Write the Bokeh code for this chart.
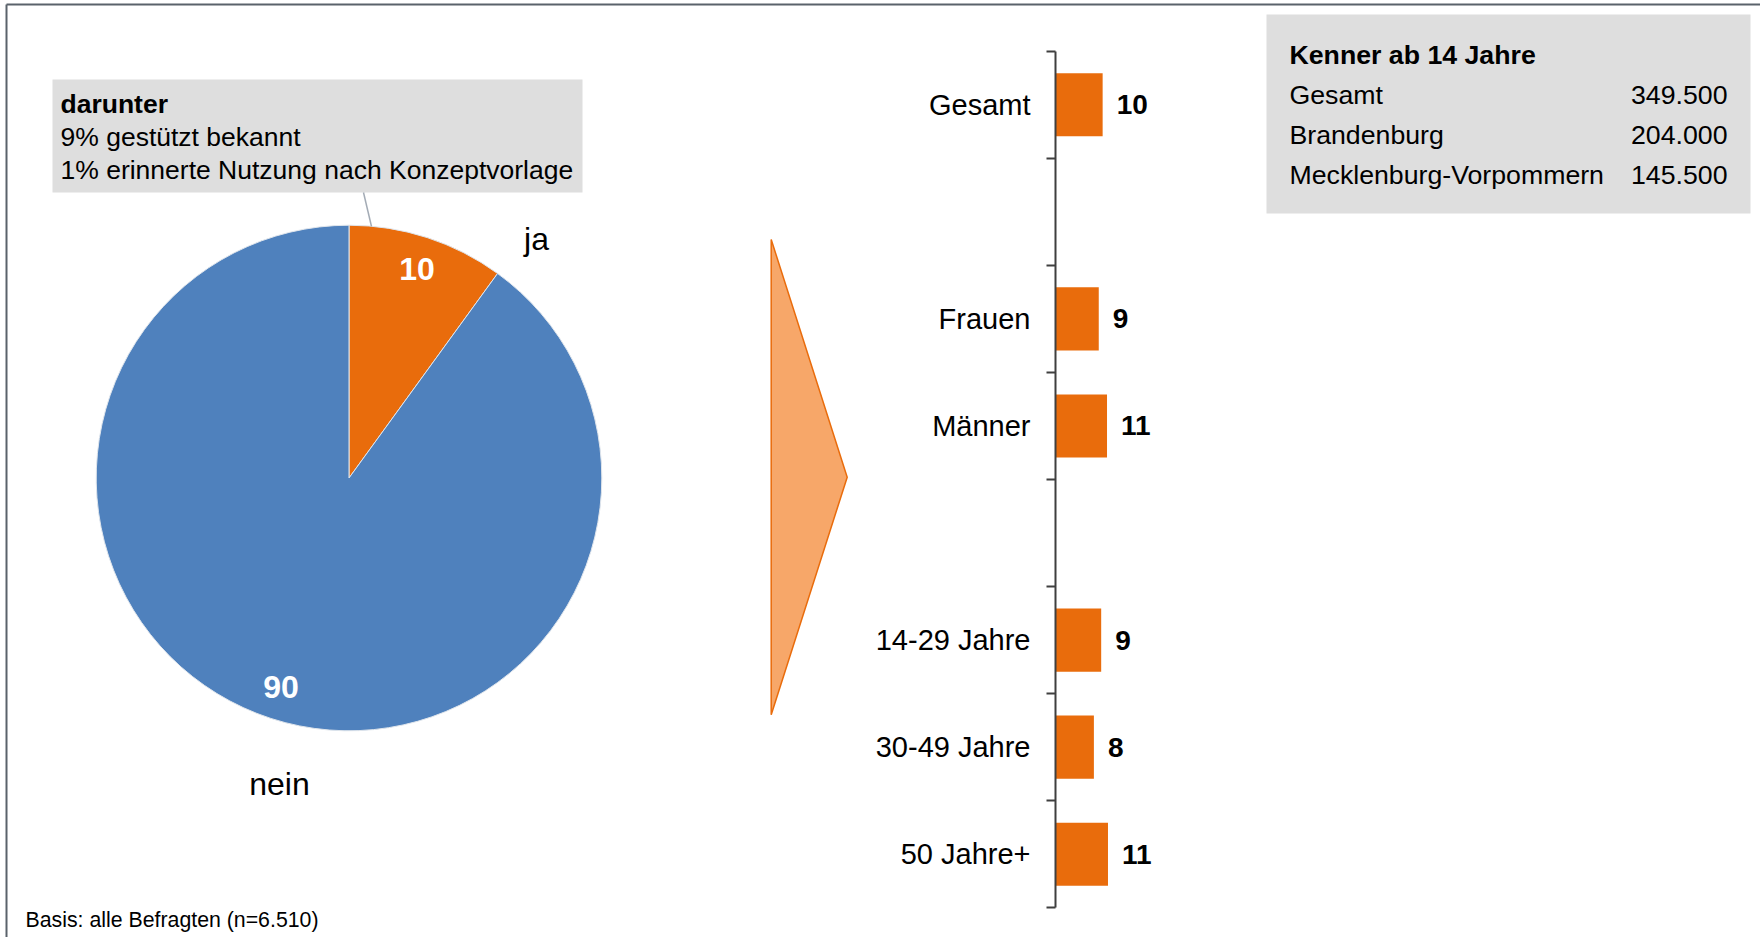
import math
from bokeh.plotting import figure
from bokeh.models import Range1d, LinearAxis, FixedTicker, ColumnDataSource
from bokeh.core.properties import value
from bokeh.embed import file_html
from bokeh.resources import INLINE

# ---------------- data ----------------
pie_labels = ["ja", "nein"]
pie_values = [10, 90]
pie_colors = ["#E96C0C", "#4F81BD"]

note_title = "darunter"
note_lines = ["9% gestützt bekannt", "1% erinnerte Nutzung nach Konzeptvorlage"]

bar_categories = ["Gesamt", "", "Frauen", "Männer", "", "14-29 Jahre", "30-49 Jahre", "50 Jahre+"]
bar_values = [9.7, None, 8.9, 10.6, None, 9.4, 7.9, 10.8]
bar_color = "#E96C0C"

info_title = "Kenner ab 14 Jahre"
info_regions = ["Gesamt", "Brandenburg", "Mecklenburg-Vorpommern"]
info_counts = ["349.500", "204.000", "145.500"]

base_note = "Basis: alle Befragten (n=6.510)"

# ---------------- layout helpers ----------------
W, H = 1760, 937
FONT = value("Liberation Sans")


def X(rx):
    return rx


def Y(ry):
    return H - ry


p = figure(width=W, height=H, x_range=Range1d(0, W), y_range=Range1d(0, H),
           output_backend="svg", toolbar_location=None,
           x_axis_type=None, y_axis_type=None, min_border=0,
           outline_line_color=None, background_fill_color="white",
           border_fill_color="white")

# frame border (top + left)
p.segment(x0=[X(6), X(6)], y0=[Y(4), Y(4)], x1=[X(W), X(6)], y1=[Y(4), Y(H)],
          line_color="#5a626b", line_width=2)

# ---------------- pie ----------------
cx, cy, R = X(348.5), Y(477.5), 252.8
total = float(sum(pie_values))
starts, ends = [], []
a = math.pi / 2
for v in pie_values:
    e = a
    s = a - v / total * 2 * math.pi
    starts.append(s)
    ends.append(e)
    a = s
mids = [(s + e) / 2 for s, e in zip(starts, ends)]

p.wedge(x=cx, y=cy, radius=R, start_angle=starts, end_angle=ends,
        direction="anticlock", fill_color=pie_colors,
        line_color="#dfe5ec", line_width=1)

lab_r = 0.87 * R
p.text(x=[cx + lab_r * math.cos(m) for m in mids],
       y=[cy + lab_r * math.sin(m) for m in mids],
       text=[str(v) for v in pie_values],
       text_color="white", text_font=FONT, text_font_style="bold",
       text_font_size="32px", text_align="center", text_baseline="middle")

# outer category labels
p.text(x=[X(536), X(279)], y=[Y(238.8), Y(783.8)], text=pie_labels,
       text_color="black", text_font=FONT, text_font_size="32px",
       text_align="center", text_baseline="middle")

# note box + leader line
p.quad(left=X(52), right=X(582), top=Y(79), bottom=Y(192),
       fill_color="#DEDEDE", line_color=None)
p.segment(x0=X(363), y0=Y(192), x1=X(371), y1=Y(226),
          line_color="#a3abb5", line_width=1.5)
p.text(x=X(60), y=Y(103.7), text=[note_title], text_color="black",
       text_font=FONT, text_font_style="bold", text_font_size="26.5px",
       text_baseline="middle")
p.text(x=[X(60), X(60)], y=[Y(136.7), Y(169.2)], text=note_lines,
       text_color="black", text_font=FONT, text_font_size="26.5px",
       text_baseline="middle")

# arrow
p.patch(x=[X(770.7), X(846.7), X(770.7)], y=[Y(239), Y(476.7), Y(714.3)],
        fill_color="#F7A769", line_color="#E96C0C", line_width=1.5)

# ---------------- bars ----------------
px_per_unit = 4.86
axis_x = X(1055)
slot_top = 50.7
slot_px = (907.3 - 50.7) / len(bar_categories)
p.extra_x_ranges["val"] = Range1d(-axis_x / px_per_unit, (W - axis_x) / px_per_unit)
p.extra_y_ranges["slot"] = Range1d(start=(H - slot_top) / slot_px, end=-slot_top / slot_px)

idx = [i for i, v in enumerate(bar_values) if v is not None]
bsrc = ColumnDataSource(dict(
    y=[i + 0.5 for i in idx],
    v=[bar_values[i] for i in idx],
    lab=[f"{bar_values[i]:.0f}" for i in idx],
))
p.hbar(y="y", left=0, right="v", height=0.59, source=bsrc,
       fill_color=bar_color, line_color=None,
       x_range_name="val", y_range_name="slot")
p.text(x="v", y="y", text="lab", source=bsrc, x_offset=14,
       text_color="black", text_font=FONT, text_font_style="bold",
       text_font_size="28px", text_align="left", text_baseline="middle",
       x_range_name="val", y_range_name="slot")

n = len(bar_categories)
bounds_ticks = list(range(n + 1))
tick_axis = LinearAxis(x_range_name="val", y_range_name="slot", fixed_location=0,
                       ticker=FixedTicker(ticks=bounds_ticks), bounds=(0, n),
                       major_label_overrides={t: "" for t in bounds_ticks},
                       axis_line_color="#3f3f3f", axis_line_width=2,
                       major_tick_line_color="#3f3f3f", major_tick_line_width=2,
                       major_tick_out=9, major_tick_in=0,
                       minor_tick_line_color=None)
p.add_layout(tick_axis, "left")

label_ticks = [i + 0.5 for i, c in enumerate(bar_categories) if c]
label_axis = LinearAxis(x_range_name="val", y_range_name="slot", fixed_location=0,
                        ticker=FixedTicker(ticks=label_ticks),
                        major_label_overrides={i + 0.5: c for i, c in enumerate(bar_categories) if c},
                        axis_line_color=None, major_tick_line_color=None,
                        minor_tick_line_color=None,
                        major_tick_out=0, major_tick_in=0,
                        major_label_standoff=25,
                        major_label_text_font="Liberation Sans",
                        major_label_text_font_size="29px",
                        major_label_text_color="black")
p.add_layout(label_axis, "left")

# ---------------- info box ----------------
p.quad(left=X(1266), right=X(1750), top=Y(14), bottom=Y(213),
       fill_color="#DEDEDE", line_color=None)
p.text(x=X(1289), y=Y(54), text=[info_title], text_color="black",
       text_font=FONT, text_font_style="bold", text_font_size="26.7px",
       text_baseline="middle")
row_mid = [Y(94.2), Y(134.7), Y(174.7)]
p.text(x=[X(1289)] * 3, y=row_mid, text=info_regions, text_color="black",
       text_font=FONT, text_font_size="26.7px", text_baseline="middle")
p.text(x=[X(1727)] * 3, y=row_mid, text=info_counts, text_color="black",
       text_font=FONT, text_font_size="26.7px", text_align="right",
       text_baseline="middle")

# ---------------- footnote ----------------
p.text(x=X(25), y=Y(919), text=[base_note], text_color="black",
       text_font=FONT, text_font_size="21.3px", text_baseline="middle")

open("out.html", "w").write(file_html(p, INLINE))
